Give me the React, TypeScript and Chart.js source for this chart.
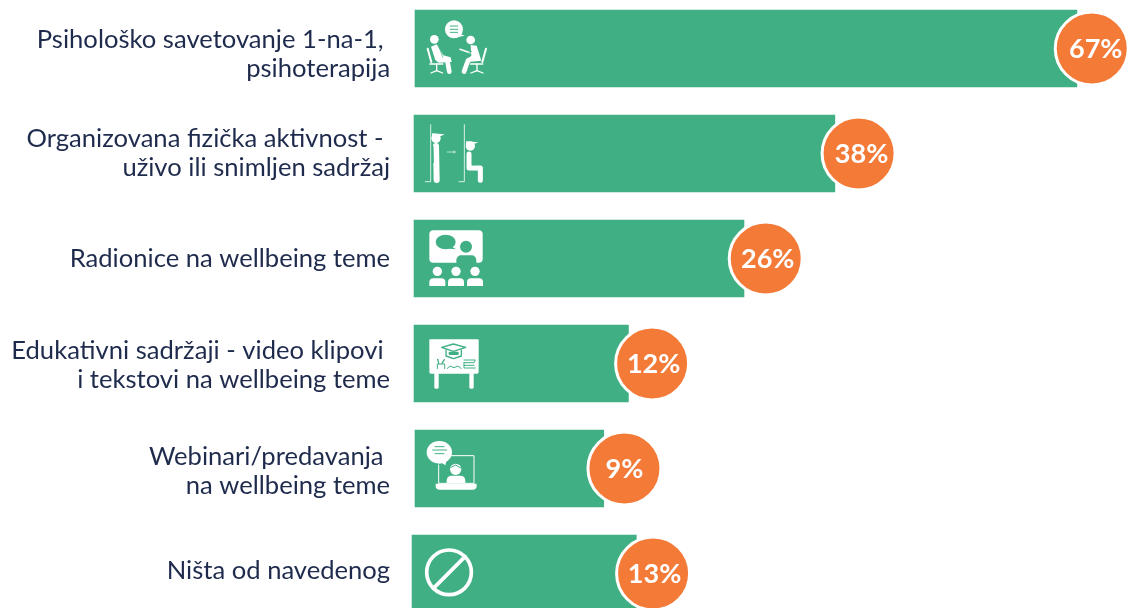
import React, { useEffect, useRef } from "react";
import { Chart, registerables } from "chart.js";

Chart.register(...registerables);

const categories: string[][] = [
  ["Psihološko savetovanje 1-na-1, ", "psihoterapija"],
  ["Organizovana fizička aktivnost - ", "uživo ili snimljen sadržaj"],
  ["Radionice na wellbeing teme"],
  ["Edukativni sadržaji - video klipovi ", "i tekstovi na wellbeing teme"],
  ["Webinari/predavanja ", "na wellbeing teme"],
  ["Ništa od navedenog"],
];
const labelShift = [6, 0, 0, 2, 3, -3];
const percentLabels = ["67%", "38%", "26%", "12%", "9%", "13%"];
const percentShift = [4, 3, 2, 1.5, 0, 1.5];
const barStart = [0, -0.1, -0.1, -0.1, 0, -0.3];
const barEnd = [67, 42.5, 33.3, 21.6, 19.1, 22.4];
const badgeCentre = [68.5, 44.9, 35.5, 24, 21.2, 24.1];

const GREEN = "#40b084";
const ORANGE = "#f47a38";
const NAVY = "#1f2b4d";
const WHITE = "#ffffff";

type C = CanvasRenderingContext2D;

function line(c: C, pts: number[], w: number, col = WHITE) {
  c.strokeStyle = col;
  c.lineWidth = w;
  c.lineCap = "round";
  c.lineJoin = "round";
  c.beginPath();
  c.moveTo(pts[0], pts[1]);
  for (let i = 2; i < pts.length; i += 2) c.lineTo(pts[i], pts[i + 1]);
  c.stroke();
}
function disc(c: C, x: number, y: number, r: number, col = WHITE) {
  c.fillStyle = col;
  c.beginPath();
  c.arc(x, y, r, 0, Math.PI * 2);
  c.fill();
}
function oval(c: C, x: number, y: number, rx: number, ry: number, col = WHITE) {
  c.fillStyle = col;
  c.beginPath();
  c.ellipse(x, y, rx, ry, 0, 0, Math.PI * 2);
  c.fill();
}
function poly(c: C, pts: number[], col = WHITE) {
  c.fillStyle = col;
  c.beginPath();
  c.moveTo(pts[0], pts[1]);
  for (let i = 2; i < pts.length; i += 2) c.lineTo(pts[i], pts[i + 1]);
  c.closePath();
  c.fill();
}
function box(c: C, x: number, y: number, w: number, h: number, r: number | number[], col = WHITE) {
  c.fillStyle = col;
  c.beginPath();
  c.roundRect(x, y, w, h, r);
  c.fill();
}

// Icons are drawn in a 3x local space whose origin is shifted to each bar's corner.
const icons: ((c: C) => void)[] = [
  (c) => {
    c.translate(-45, -30);
    disc(c, 162, 88, 27);
    poly(c, [175, 100, 194, 107, 170, 112]);
    line(c, [151, 78, 173, 78], 3, GREEN);
    line(c, [151, 88, 173, 88], 3, GREEN);
    line(c, [151, 97, 173, 97], 3, GREEN);
    disc(c, 103, 118, 13);
    disc(c, 212, 120, 13);
    poly(c, [93, 140, 110, 133, 130, 166, 152, 172, 155, 186, 116, 188, 106, 180]);
    line(c, [142, 182, 148, 215], 14);
    poly(c, [212, 135, 230, 137, 244, 182, 204, 186, 200, 176, 214, 168]);
    line(c, [204, 182, 192, 215], 14);
    line(c, [180, 148, 210, 158], 5);
    line(c, [205, 160, 215, 154], 2, GREEN);
    line(c, [118, 143, 128, 172], 2, GREEN);
    line(c, [83, 146, 94, 186], 6);
    line(c, [258, 146, 247, 186], 6);
    line(c, [90, 192, 128, 192], 5);
    line(c, [212, 192, 248, 192], 5);
    line(c, [110, 192, 110, 212], 4);
    line(c, [231, 192, 231, 212], 4);
    line(c, [93, 219, 110, 212, 128, 219], 4);
    line(c, [213, 219, 231, 212, 249, 219], 4);
  },
  (c) => {
    c.translate(-42, -345);
    line(c, [92, 374, 92, 545, 76, 545], 3, "#d5efe5");
    disc(c, 108, 415, 14);
    poly(c, [96, 400, 134, 403, 118, 410, 96, 410]);
    line(c, [108, 438, 110, 540], 18);
    line(c, [99, 440, 100, 488], 3, GREEN);
    line(c, [142, 456, 160, 456], 3, "#b9e3d3");
    poly(c, [160, 451, 169, 456, 160, 461], "#b9e3d3");
    line(c, [193, 374, 193, 545, 177, 545], 3, "#d5efe5");
    disc(c, 211, 438, 14);
    poly(c, [198, 424, 235, 427, 220, 433, 198, 433]);
    line(c, [207, 462, 207, 504, 241, 504, 241, 541], 15);
    line(c, [218, 462, 220, 495], 3, GREEN);
  },
  (c) => {
    c.translate(-42, -30);
    box(c, 88, 61, 160, 97, 12);
    oval(c, 137, 96, 30, 22, GREEN);
    poly(c, [152, 108, 168, 118, 148, 116], GREEN);
    disc(c, 198, 110, 18, GREEN);
    box(c, 169, 136, 60, 30, [14, 14, 0, 0], GREEN);
    const xs = [112, 168, 225];
    xs.forEach((x) => {
      disc(c, x, 184, 14);
      box(c, x - 24, 205, 48, 23, [12, 12, 0, 0]);
    });
  },
  (c) => {
    c.translate(-42, -345);
    box(c, 88, 388, 148, 92, 3);
    line(c, [125, 412, 160, 402, 197, 412, 160, 424, 125, 412], 4, GREEN);
    line(c, [138, 420, 138, 438, 160, 446, 184, 438, 184, 420], 4, GREEN);
    box(c, 146, 425, 30, 10, 3, GREEN);
    line(c, [112, 476, 112, 462, 134, 462, 134, 476], 3, GREEN);
    line(c, [116, 460, 113, 448], 4, GREEN);
    line(c, [126, 460, 133, 449], 4, GREEN);
    line(c, [141, 476, 150, 468, 162, 473, 174, 468, 184, 476], 3, GREEN);
    line(c, [192, 450, 226, 450, 222, 458, 192, 458], 3, GREEN);
    line(c, [192, 458, 192, 474, 226, 474], 3, GREEN);
    line(c, [192, 466, 222, 466], 3, GREEN);
    box(c, 88, 477, 148, 14, 5);
    box(c, 103, 488, 13, 48, 4);
    box(c, 208, 488, 13, 48, 4);
  },
  (c) => {
    c.translate(-45, -450);
    line(c, [118, 527, 222, 527, 222, 610, 116, 610, 116, 555], 3);
    box(c, 107, 611, 123, 18, [0, 0, 12, 12]);
    disc(c, 167, 569, 20, GREEN);
    disc(c, 167, 568, 17);
    box(c, 140, 587, 56, 22, [14, 14, 0, 0]);
    line(c, [153, 562, 167, 555, 182, 564], 3, GREEN);
    oval(c, 118, 517, 38, 34);
    poly(c, [120, 545, 136, 556, 140, 540]);
    line(c, [105, 500, 132, 500], 3, GREEN);
    line(c, [98, 510, 140, 510], 3, GREEN);
    line(c, [105, 521, 132, 521], 3, GREEN);
  },
  (c) => {
    c.translate(-36, -345);
    c.strokeStyle = WHITE;
    c.lineWidth = 11;
    c.beginPath();
    c.arc(147, 457, 67, 0, Math.PI * 2);
    c.stroke();
    line(c, [195, 410, 100, 505], 11);
  },
];

const decorPlugin = {
  id: "decor",
  afterDatasetsDraw(chart: Chart) {
    const c = chart.ctx;
    const bars = chart.getDatasetMeta(0).data as any[];
    bars.forEach((bar, i) => {
      c.save();
      const left = chart.scales.x.getPixelForValue(barStart[i]);
      c.translate(left, bar.y - 38.5);
      c.scale(1 / 3, 1 / 3);
      icons[i](c);
      c.restore();
    });
    const points = chart.getDatasetMeta(1).data as any[];
    c.save();
    c.fillStyle = WHITE;
    c.font = "700 27px Lato";
    c.textAlign = "center";
    c.textBaseline = "middle";
    points.forEach((p, i) => c.fillText(percentLabels[i], p.x + percentShift[i], p.y + 1));
    // category labels: each block sits slightly off its bar's centre in the reference
    const y = chart.scales.y;
    c.fillStyle = NAVY;
    c.font = "400 25.6px Lato";
    c.textAlign = "right";
    categories.forEach((lines, i) => {
      const mid = y.getPixelForValue(i) + labelShift[i];
      lines.forEach((t, k) => c.fillText(t, y.right - 15, mid + (k - (lines.length - 1) / 2) * 29));
    });
    c.restore();
  },
};

export default function App() {
  const ref = useRef<HTMLCanvasElement>(null);
  useEffect(() => {
    const chart = new Chart(ref.current!, {
      data: {
        labels: categories.map((l) => l.join("")),
        datasets: [
          {
            type: "bar",
            indexAxis: "y",
            order: 2,
            data: barStart.map((s, i) => [s, barEnd[i]]) as any,
            backgroundColor: GREEN,
            barThickness: 77,
          },
          {
            type: "scatter",
            order: 1,
            data: badgeCentre.map((x, i) => ({ x, y: i })),
            pointRadius: 36.5,
            pointHoverRadius: 36.5,
            pointBackgroundColor: ORANGE,
            pointBorderColor: WHITE,
            pointBorderWidth: 3,
            clip: false,
          },
        ],
      } as any,
      options: {
        animation: false,
        responsive: false,
        layout: { padding: 0, autoPadding: false },
        plugins: { legend: { display: false }, tooltip: { enabled: false } },
        scales: {
          x: { type: "linear", display: false, min: -1, max: 72.17 },
          y: {
            type: "category",
            offset: true,
            afterFit: (s: any) => {
              s.width = 405.12;
              s.paddingTop = 0;
              s.paddingBottom = 0;
            },
            grid: { display: false },
            border: { display: false },
            ticks: { display: false, autoSkip: false },
          },
        },
      } as any,
      plugins: [decorPlugin],
    });
    return () => chart.destroy();
  }, []);
  return (
    <div style={{ position: "fixed", inset: 0, overflow: "hidden", background: "#fff" }}>
      <canvas ref={ref} width={1128} height={630} style={{ position: "absolute", left: 0, top: -4 }} />
    </div>
  );
}
